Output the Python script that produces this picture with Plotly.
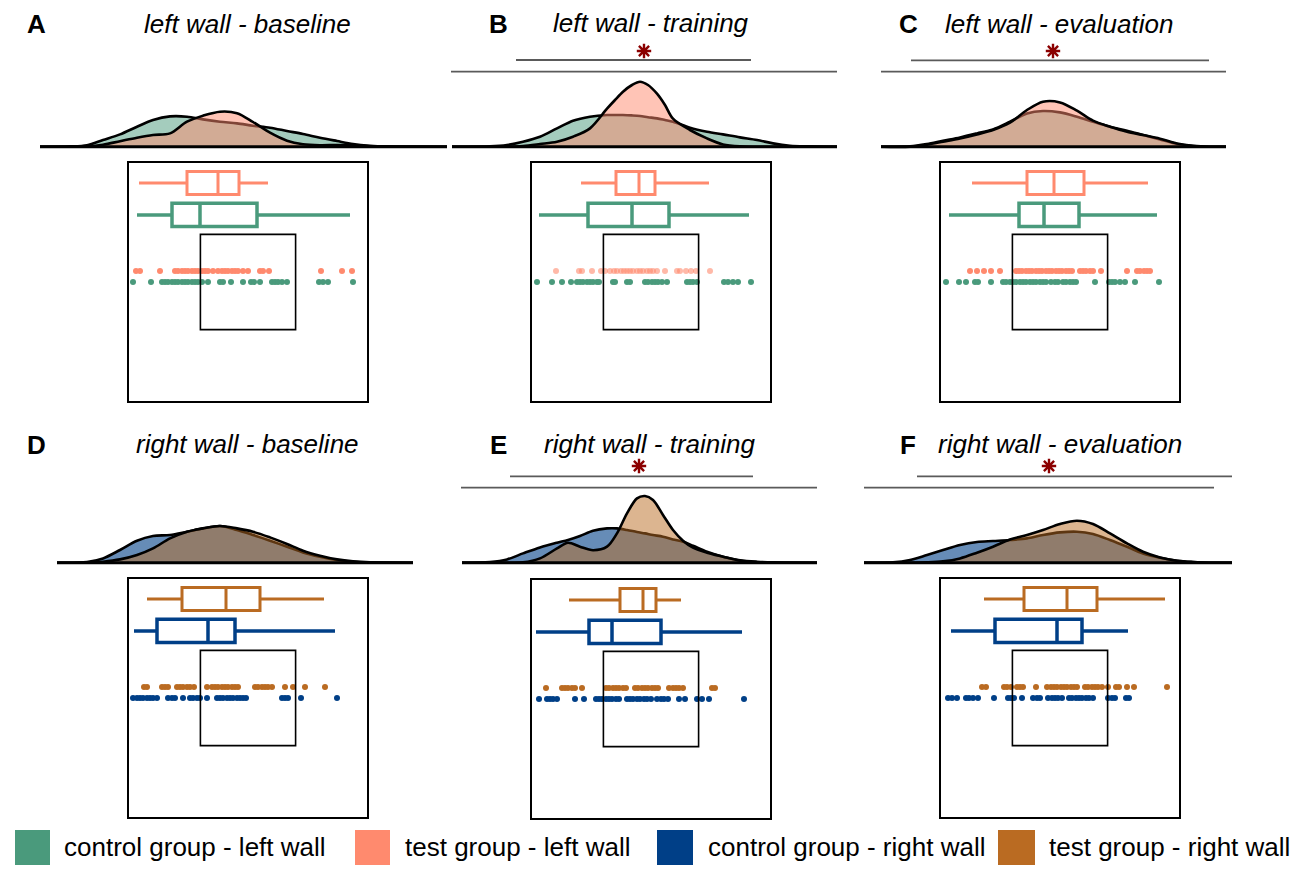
import plotly.graph_objects as go

# ---------------- data (scores in arbitrary units; densities relative) ----------------
panel_letters = ["A", "B", "C", "D", "E", "F"]
panel_titles = ["left wall - baseline", "left wall - training", "left wall - evaluation",
                "right wall - baseline", "right wall - training", "right wall - evaluation"]
legend_labels = ["control group - left wall", "test group - left wall",
                 "control group - right wall", "test group - right wall"]

# individual observations
A_test_pts = [7, 11, 31, 46, 49, 53, 56, 59, 63, 66, 69, 73, 76, 79, 84, 89, 93, 96, 99, 103,
              106, 109, 114, 119, 131, 134, 140, 192, 213, 223]
A_ctrl_pts = [4, 22, 33, 36, 39, 43, 46, 49, 53, 56, 59, 63, 66, 69, 73, 79, 91, 94, 102, 114,
              122, 125, 131, 143, 146, 149, 153, 158, 190, 194, 199, 224]
B_test_pts = [24, 47, 50, 60, 69, 73, 78, 82, 85, 89, 92, 95, 98, 101, 105, 108, 111, 115, 118,
              121, 125, 133, 145, 148, 154, 159, 164, 178]
B_ctrl_pts = [5, 20, 30, 39, 45, 48, 51, 55, 58, 61, 65, 67, 81, 83, 95, 98, 113, 116, 120, 123,
              126, 130, 135, 155, 158, 161, 165, 192, 196, 201, 206, 219]
C_test_pts = [29, 36, 43, 50, 59, 75, 78, 81, 85, 88, 91, 95, 98, 101, 105, 108, 111, 115, 118,
              121, 125, 128, 131, 139, 142, 145, 149, 152, 160, 186, 196, 199, 203, 206, 209]
C_ctrl_pts = [5, 18, 25, 34, 37, 50, 62, 65, 69, 72, 75, 79, 82, 85, 89, 92, 95, 99, 102, 105,
              110, 114, 117, 122, 125, 129, 132, 135, 154, 168, 171, 174, 179, 184, 194, 218]
D_test_pts = [15, 18, 33, 36, 39, 48, 51, 54, 58, 61, 65, 78, 83, 86, 89, 93, 96, 99, 103, 106,
              109, 126, 129, 133, 136, 139, 143, 156, 164, 176, 196]
D_ctrl_pts = [4, 8, 11, 14, 18, 21, 24, 28, 39, 43, 46, 54, 61, 64, 68, 71, 78, 88, 91, 94, 98,
              101, 104, 108, 111, 114, 117, 153, 156, 159, 172, 208]
E_test_pts = [14, 30, 33, 36, 40, 43, 50, 74, 77, 81, 84, 87, 91, 94, 103, 106, 110, 113, 116,
              120, 123, 126, 137, 141, 144, 147, 151, 180, 183]
E_ctrl_pts = [7, 15, 18, 21, 25, 43, 52, 64, 67, 70, 74, 77, 80, 84, 87, 95, 98, 101, 105, 108,
              112, 115, 119, 125, 129, 132, 136, 147, 153, 165, 170, 177, 212]
F_test_pts = [41, 45, 63, 66, 70, 76, 79, 82, 95, 106, 110, 113, 116, 120, 123, 126, 130, 133,
              136, 144, 147, 151, 154, 157, 161, 167, 175, 178, 186, 193, 226]
F_ctrl_pts = [7, 11, 16, 25, 28, 32, 37, 53, 67, 70, 73, 81, 92, 96, 99, 107, 111, 114, 117, 121,
              128, 131, 135, 138, 141, 145, 148, 152, 167, 171, 174, 185, 188]

# box summaries: [lower whisker, Q1, median, Q3, upper whisker]
A_test_box = [10, 58, 89, 110, 139]
A_ctrl_box = [8, 43, 71, 128, 221]
B_test_box = [49, 84, 107, 123, 177]
B_ctrl_box = [7, 56, 100, 137, 217]
C_test_box = [31, 86, 113, 143, 207]
C_ctrl_box = [8, 78, 103, 138, 216]
D_test_box = [18, 53, 97, 131, 195]
D_ctrl_box = [5, 28, 79, 106, 206]
E_test_box = [37, 88, 111, 124, 149]
E_ctrl_box = [4, 57, 80, 129, 210]
F_test_box = [43, 83, 126, 156, 224]
F_ctrl_box = [10, 54, 116, 141, 187]

# density curves
A_dens_x = [-89, -59, -42, -26, -9, 8, 24, 41, 58, 74, 91, 108, 124, 141, 158, 174, 191, 208, 224, 241, 258, 318]
A_ctrl_dens = [0, 0.003, 0.015, 0.067, 0.123, 0.20, 0.267, 0.303, 0.30, 0.273, 0.25, 0.233, 0.21, 0.19,
               0.157, 0.127, 0.09, 0.057, 0.027, 0.01, 0.003, 0]
A_test_dens = [0, 0, 0.003, 0.02, 0.055, 0.09, 0.117, 0.133, 0.25, 0.31, 0.35, 0.335, 0.247, 0.14,
               0.06, 0.025, 0.015, 0.017, 0.013, 0.005, 0.002, 0]
B_dens_x = [-80, -42, -25, -9, 8, 25, 41, 58, 75, 83, 91, 100, 108, 116, 125, 133, 141, 158, 175, 191,
            208, 225, 241, 258, 275, 305]
B_ctrl_dens = [0, 0.003, 0.017, 0.05, 0.10, 0.183, 0.26, 0.30, 0.317, 0.317, 0.317, 0.313, 0.307, 0.295,
               0.283, 0.267, 0.25, 0.19, 0.15, 0.123, 0.093, 0.067, 0.033, 0.01, 0.003, 0]
B_test_dens = [0, 0, 0, 0.007, 0.027, 0.05, 0.10, 0.183, 0.38, 0.467, 0.55, 0.617, 0.65, 0.617, 0.53,
               0.417, 0.28, 0.167, 0.083, 0.023, 0.003, 0, 0, 0, 0, 0]
C_dens_x = [-60, -31, -14, 2, 19, 36, 52, 69, 86, 102, 119, 136, 152, 169, 186, 202, 219, 236, 252, 269, 285]
C_ctrl_dens = [0, 0.003, 0.027, 0.06, 0.093, 0.133, 0.173, 0.25, 0.333, 0.357, 0.343, 0.30, 0.25, 0.20,
               0.16, 0.117, 0.073, 0.027, 0.007, 0, 0]
C_test_dens = [0, 0, 0.02, 0.05, 0.083, 0.123, 0.167, 0.24, 0.367, 0.45, 0.443, 0.36, 0.26, 0.20,
               0.15, 0.117, 0.08, 0.033, 0.01, 0, 0]
D_dens_x = [-72, -42, -26, -9, 8, 24, 41, 58, 74, 91, 108, 124, 141, 158, 174, 191, 208, 224, 241, 284]
D_ctrl_dens = [0, 0.007, 0.043, 0.127, 0.22, 0.267, 0.277, 0.31, 0.343, 0.367, 0.327, 0.277, 0.22,
               0.16, 0.103, 0.06, 0.027, 0.01, 0.003, 0]
D_test_dens = [0, 0, 0.01, 0.033, 0.077, 0.143, 0.243, 0.31, 0.343, 0.367, 0.343, 0.31, 0.253,
               0.187, 0.12, 0.07, 0.033, 0.013, 0.003, 0]
E_dens_x = [-70, -42, -25, -9, 8, 25, 36, 48, 61, 75, 85, 95, 105, 113, 121, 131, 141, 151, 161, 175,
            191, 208, 225, 241, 285]
E_ctrl_dens = [0, 0.007, 0.033, 0.093, 0.153, 0.20, 0.227, 0.267, 0.32, 0.343, 0.343, 0.327, 0.307,
               0.293, 0.277, 0.26, 0.233, 0.21, 0.17, 0.11, 0.06, 0.025, 0.01, 0.003, 0]
E_test_dens = [0, 0, 0, 0.003, 0.043, 0.143, 0.20, 0.16, 0.125, 0.16, 0.293, 0.493, 0.643, 0.667,
               0.627, 0.477, 0.327, 0.22, 0.15, 0.10, 0.06, 0.02, 0.003, 0, 0]
F_dens_x = [-77, -48, -31, -14, 2, 19, 36, 52, 69, 86, 102, 119, 136, 152, 169, 186, 202, 219, 236, 252, 269, 291]
F_ctrl_dens = [0, 0.003, 0.027, 0.077, 0.127, 0.177, 0.207, 0.217, 0.227, 0.243, 0.277, 0.303, 0.31,
               0.287, 0.227, 0.16, 0.093, 0.05, 0.02, 0.007, 0, 0]
F_test_dens = [0, 0, 0, 0.003, 0.013, 0.043, 0.10, 0.16, 0.233, 0.277, 0.327, 0.387, 0.42, 0.387,
               0.293, 0.193, 0.11, 0.053, 0.02, 0.007, 0, 0]

panels = [
    dict(ctrl_pts=A_ctrl_pts, test_pts=A_test_pts, ctrl_box=A_ctrl_box, test_box=A_test_box,
         dx=A_dens_x, ctrl_d=A_ctrl_dens, test_d=A_test_dens),
    dict(ctrl_pts=B_ctrl_pts, test_pts=B_test_pts, ctrl_box=B_ctrl_box, test_box=B_test_box,
         dx=B_dens_x, ctrl_d=B_ctrl_dens, test_d=B_test_dens),
    dict(ctrl_pts=C_ctrl_pts, test_pts=C_test_pts, ctrl_box=C_ctrl_box, test_box=C_test_box,
         dx=C_dens_x, ctrl_d=C_ctrl_dens, test_d=C_test_dens),
    dict(ctrl_pts=D_ctrl_pts, test_pts=D_test_pts, ctrl_box=D_ctrl_box, test_box=D_test_box,
         dx=D_dens_x, ctrl_d=D_ctrl_dens, test_d=D_test_dens),
    dict(ctrl_pts=E_ctrl_pts, test_pts=E_test_pts, ctrl_box=E_ctrl_box, test_box=E_test_box,
         dx=E_dens_x, ctrl_d=E_ctrl_dens, test_d=E_test_dens),
    dict(ctrl_pts=F_ctrl_pts, test_pts=F_test_pts, ctrl_box=F_ctrl_box, test_box=F_test_box,
         dx=F_dens_x, ctrl_d=F_ctrl_dens, test_d=F_test_dens),
]

# ---------------- styling / layout positions (page pixels) ----------------
OFF = 8                      # page body margin of the html page
W, H = 1302 - OFF, 880 - OFF  # figure size so that it fills the window exactly


def PX(x):
    return (x - OFF) / W


def PY(y):
    return 1 - (y - OFF) / H


FONT = "Liberation Sans, Arial, sans-serif"
COL = {
    "left": dict(ctrl="#4A9A7C", test="#FF8A6E",
                 ctrl_fill="rgba(74,154,124,0.5)", test_fill="rgba(255,138,110,0.5)"),
    "right": dict(ctrl="#003F87", test="#BA6B22",
                  ctrl_fill="rgba(0,63,135,0.6)", test_fill="rgba(186,107,34,0.5)"),
}
legend_colors = ["#4A9A7C", "#FF8A6E", "#003F87", "#BA6B22"]

frame_left = [129, 532, 941, 129, 532, 941]
frame_top = [163, 163, 163, 579, 580, 579]
base_y = [146.7, 146.7, 146.7, 562.7, 562.7, 562.7]
FRAME = 238
title_pos = [(247, 24.5), (650.5, 23), (1059, 24.5), (247.5, 443.5), (650, 443.5), (1060, 443.5)]
letter_pos = [(25, 24.5), (487, 24.5), (897, 24.5), (25, 444.5), (488, 444.5), (898, 444.5)]
star_pos = [None, (644, 51), (1053, 51), None, (639, 466), (1049, 466)]
sig_lines = [[], [(516, 751, 60), (451, 837, 71.7)], [(911, 1209, 60.3), (881, 1226, 71.7)],
             [], [(510, 753, 476.3), (461, 817, 487.7)], [(917, 1232, 476.3), (864, 1214, 487.7)]]
# vertical slots inside the frame (fraction from top)
TEST_BOX_Y, CTRL_BOX_Y, TEST_PTS_Y, CTRL_PTS_Y = 0.084, 0.218, 0.454, 0.50
BOX_W = 0.097
DPU = 100.0   # density-axis pixels per unit


def ax_name(kind, n):
    return f"{kind}axis" if n == 1 else f"{kind}axis{n}"


def ax_ref(kind, n):
    return kind if n == 1 else f"{kind}{n}"


fig = go.Figure()
layout = dict(width=W, height=H, margin=dict(l=0, r=0, t=0, b=0), autosize=False,
              paper_bgcolor="white", plot_bgcolor="rgba(0,0,0,0)", showlegend=False)
shapes, annotations = [], []
hidden = dict(visible=False, showgrid=False, zeroline=False)

for i, p in enumerate(panels):
    side = "left" if i < 3 else "right"
    c = COL[side]
    dn, bn = 2 * i + 1, 2 * i + 2
    fl, ft, by = frame_left[i], frame_top[i], base_y[i]
    dx = p["dx"]
    pad = 3
    xr = [dx[0] - pad, dx[-1] + pad]
    y_lo, y_hi = -0.03, 1.1
    layout[ax_name("x", dn)] = dict(domain=[PX(fl + xr[0]), PX(fl + xr[1])], range=xr,
                                     anchor=ax_ref("y", dn), **hidden)
    layout[ax_name("y", dn)] = dict(domain=[PY(by - y_lo * DPU), PY(by - y_hi * DPU)],
                                     range=[y_lo, y_hi], anchor=ax_ref("x", dn), **hidden)
    frame_ax = dict(showline=True, mirror=True, linecolor="black", linewidth=2,
                    showticklabels=False, ticks="", showgrid=False, zeroline=False)
    layout[ax_name("x", bn)] = dict(domain=[PX(fl), PX(fl + FRAME)], range=[0, FRAME],
                                     anchor=ax_ref("y", bn), **frame_ax)
    layout[ax_name("y", bn)] = dict(domain=[PY(ft + FRAME), PY(ft)], range=[1, 0],
                                     anchor=ax_ref("x", bn), **frame_ax)
    dxr, dyr = ax_ref("x", dn), ax_ref("y", dn)
    bxr, byr = ax_ref("x", bn), ax_ref("y", bn)

    # densities
    for key, fill in (("ctrl_d", c["ctrl_fill"]), ("test_d", c["test_fill"])):
        fig.add_trace(go.Scatter(x=dx, y=p[key], mode="lines", fill="tozeroy", fillcolor=fill,
                                 line=dict(color="black", width=2.6, shape="spline", smoothing=0.9),
                                 xaxis=dxr, yaxis=dyr, hoverinfo="skip"))
    fig.add_trace(go.Scatter(x=[dx[0], dx[-1]], y=[0, 0], mode="lines",
                             line=dict(color="black", width=3), xaxis=dxr, yaxis=dyr, hoverinfo="skip"))
    if star_pos[i] is not None:
        sx, sy = star_pos[i]
        fig.add_trace(go.Scatter(x=[sx - fl], y=[(by - sy) / DPU], mode="markers",
                                 marker=dict(symbol="asterisk-open", size=12, color="#8B0000",
                                             line=dict(color="#8B0000", width=2.4)),
                                 cliponaxis=False, xaxis=dxr, yaxis=dyr, hoverinfo="skip"))

    # box plots
    for key, ypos, col, lw in (("test_box", TEST_BOX_Y, c["test"], 3),
                               ("ctrl_box", CTRL_BOX_Y, c["ctrl"], 3.5)):
        b = p[key]
        fig.add_trace(go.Box(orientation="h", y=[ypos], lowerfence=[b[0]], q1=[b[1]], median=[b[2]],
                             q3=[b[3]], upperfence=[b[4]], width=BOX_W, whiskerwidth=0,
                             boxpoints=False, line=dict(color=col, width=lw),
                             fillcolor="rgba(255,255,255,0)", xaxis=bxr, yaxis=byr, hoverinfo="skip"))
    # strip points
    test_op = 0.6 if i == 1 else 1.0
    for key, ypos, col, op in (("test_pts", TEST_PTS_Y, c["test"], test_op),
                               ("ctrl_pts", CTRL_PTS_Y, c["ctrl"], 1.0)):
        pts = p[key]
        fig.add_trace(go.Scatter(x=pts, y=[ypos] * len(pts), mode="markers",
                                 marker=dict(size=6, color=col, opacity=op, line=dict(width=0)),
                                 xaxis=bxr, yaxis=byr, hoverinfo="skip"))
    # inner square
    shapes.append(dict(type="rect", xref=f"{bxr} domain", yref=f"{byr} domain",
                       x0=0.3, x1=0.7, y0=0.3, y1=0.7, line=dict(color="black", width=1.6)))
    # significance lines
    for (x0, x1, yy) in sig_lines[i]:
        shapes.append(dict(type="line", xref="paper", yref="paper", x0=PX(x0), x1=PX(x1),
                           y0=PY(yy), y1=PY(yy), line=dict(color="#5a5a5a", width=1.8)))
    # title and letter
    tx, ty = title_pos[i]
    annotations.append(dict(text=panel_titles[i], x=PX(tx), y=PY(ty), xref="paper", yref="paper",
                            xanchor="center", yanchor="middle", showarrow=False,
                            font=dict(family=FONT, size=26, color="black", style="italic")))
    lx, ly = letter_pos[i]
    annotations.append(dict(text=panel_letters[i], x=PX(lx), y=PY(ly), xref="paper", yref="paper",
                            xanchor="left", yanchor="middle", showarrow=False,
                            font=dict(family=FONT, size=26, color="black", weight="bold")))

# legend (drawn manually)
leg_sq = [(15, 50), (355, 390), (657, 693), (998, 1035)]
leg_tx = [62, 403, 706, 1047]
for (x0, x1), tx, col, lab in zip(leg_sq, leg_tx, legend_colors, legend_labels):
    shapes.append(dict(type="rect", xref="paper", yref="paper", x0=PX(x0), x1=PX(x1),
                       y0=PY(865), y1=PY(830), fillcolor=col, line=dict(width=0)))
    annotations.append(dict(text=lab, x=PX(tx), y=PY(847), xref="paper", yref="paper",
                            xanchor="left", yanchor="middle", showarrow=False,
                            font=dict(family=FONT, size=26, color="black")))

layout["shapes"] = shapes
layout["annotations"] = annotations
fig.update_layout(**layout)
fig.write_html("out.html")
